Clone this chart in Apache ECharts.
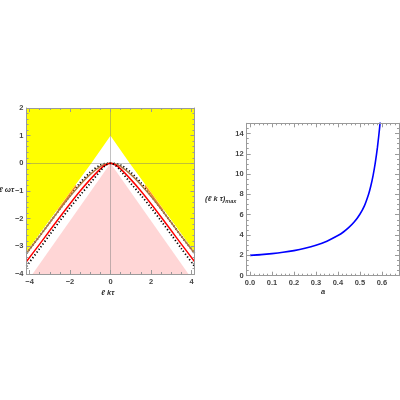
<!DOCTYPE html>
<html><head><meta charset="utf-8">
<script src="https://cdn.jsdelivr.net/npm/echarts@6/dist/echarts.min.js"></script>
<style>html,body{margin:0;padding:0;background:#fff}#c{width:400px;height:400px}</style>
</head><body><div id="c"></div>
<script>
// ---------- Left panel data (k = ℓkτ, omega = ℓωτ) ----------
const kSamples   = [-4.15,-3.5,-3,-2.5,-2,-1.5,-1,-0.5,-0.25,0,0.25,0.5,1,1.5,2,2.5,3,3.5,4.15];
const brownOmega = [-3.25,-2.63,-2.14,-1.65,-1.19,-0.77,-0.4,-0.11,-0.03,0,-0.03,-0.11,-0.4,-0.77,-1.19,-1.65,-2.14,-2.63,-3.25];
const redOmega   = [-3.55,-2.92,-2.43,-1.94,-1.46,-1.0,-0.58,-0.2,-0.06,0,-0.06,-0.2,-0.58,-1.0,-1.46,-1.94,-2.43,-2.92,-3.55];
const dotOuterOmega = [-3.25,-2.63,-2.14,-1.65,-1.17,-0.7,-0.32,-0.06,-0.01,0,-0.01,-0.06,-0.32,-0.7,-1.17,-1.65,-2.14,-2.63,-3.25];
const dotInnerOmega = [-3.72,-3.08,-2.58,-2.08,-1.6,-1.15,-0.72,-0.27,-0.08,0,-0.08,-0.27,-0.72,-1.15,-1.6,-2.08,-2.58,-3.08,-3.72];
const orangeLeftK = [-2.6,-2.3,-2.0,-1.7];
const orangeLeftOmega = [-1.7,-1.4,-1.1,-0.8];
const orangeRightK = [1.7,2.0,2.3,2.6];
const orangeRightOmega = [-0.8,-1.1,-1.4,-1.7];
const yellowK = [-4.15,-0.95,0,0.95,4.15];
const yellowOmega = [-3.2,0,1,0,-3.2];
const pinkK = [-3.85,0,3.85];
const pinkOmega = [-4,0,-4];
const leftXTicks = [-4,-2,0,2,4];
const leftYTicks = [-4,-3,-2,-1,0,1,2];

// ---------- Right panel data ----------
const aValues = [0,0.05,0.1,0.15,0.2,0.25,0.3,0.35,0.4,0.425,0.45,0.475,0.5,0.52,0.54,0.55,0.56,0.57,0.58,0.59,0.595];
const lkMax   = [2.0,2.07,2.17,2.3,2.47,2.7,3.0,3.4,3.95,4.3,4.75,5.3,6.05,6.85,8.05,8.85,9.85,11.1,12.65,14.6,15.8];
const rightXTicks = [0,0.1,0.2,0.3,0.4,0.5,0.6];
const rightYTicks = [0,2,4,6,8,10,12,14];

const zip = (xs, ys) => xs.map((x, i) => [x, ys[i]]);
function minorVals(min, max, step, majors) {
  const out = [];
  for (let v = min; v <= max + 1e-9; v += step) {
    const r = Math.round(v * 1000) / 1000;
    if (!majors.some(m => Math.abs(m - r) < 1e-6)) out.push(r);
  }
  return out;
}
const frameColor = '#9a9a9a';
const labelStyle = {fontSize: 7.5, fontWeight: 'bold', color: '#444', fontFamily: 'Liberation Sans'};
const minusFmt = v => (v < 0 ? '\u2212' + Math.abs(v) : String(v));

function makeAxes(kind, grid, min, max, majors, minors, fmt, margin) {
  const posA = kind === 'x' ? 'bottom' : 'left';
  const posB = kind === 'x' ? 'top' : 'right';
  const base = {type: 'value', gridIndex: grid, min: min, max: max, splitLine: {show: false}, z: 10};
  const mk = (pos, vals, len, withLine, withLabel) => Object.assign({}, base, {
    position: pos,
    axisLine: {show: withLine, onZero: false, lineStyle: {color: frameColor, width: 1}},
    axisTick: {show: true, inside: true, length: len, customValues: vals, lineStyle: {color: frameColor, width: 1}},
    axisLabel: withLabel ? Object.assign({show: true, margin: margin, customValues: majors, formatter: fmt}, labelStyle) : {show: false}
  });
  return [
    mk(posA, majors, 4, true, true),
    mk(posA, minors, 2, false, false),
    mk(posB, majors, 4, true, false),
    mk(posB, minors, 2, false, false)
  ];
}

const xAxes = [].concat(
  makeAxes('x', 0, -4.15, 4.15, leftXTicks, minorVals(-4, 4, 0.5, leftXTicks), minusFmt, 4),
  makeAxes('x', 1, -0.015, 0.678, rightXTicks, minorVals(0, 0.66, 0.02, rightXTicks), v => v.toFixed(1), 3)
);
const yAxes = [].concat(
  makeAxes('y', 0, -4, 2, leftYTicks, minorVals(-4, 2, 0.2, leftYTicks), minusFmt, 3),
  makeAxes('y', 1, 0, 15, rightYTicks, minorVals(0, 15, 0.5, rightYTicks), v => String(v), 3)
);

const L = {xAxisIndex: 0, yAxisIndex: 0};
const R = {xAxisIndex: 4, yAxisIndex: 4};
const curve = (data, color, width, type, z, smooth) => Object.assign({
  type: 'line', data: data, showSymbol: false, symbol: 'none', smooth: smooth, silent: true, z: z,
  lineStyle: {color: color, width: width, type: type}
}, L);
const titleStyle = {fontSize: 7.5, fontStyle: 'italic', fontWeight: 'bold', fill: '#333', fontFamily: 'Liberation Sans'};

const option = {
  animation: false,
  backgroundColor: '#fff',
  grid: [
    {left: 26.5, top: 108, width: 168, height: 166, containLabel: false, outerBoundsMode: 'none'},
    {left: 246.7, top: 123.3, width: 152.3, height: 152.4, containLabel: false, outerBoundsMode: 'none'}
  ],
  xAxis: xAxes,
  yAxis: yAxes,
  series: [
    Object.assign({type: 'line', data: zip(yellowK, yellowOmega), symbol: 'none', silent: true, z: 1,
      lineStyle: {width: 0}, areaStyle: {color: '#ffff00', opacity: 1, origin: 'end'}}, L),
    Object.assign({type: 'line', data: zip(pinkK, pinkOmega), symbol: 'none', silent: true, z: 1,
      lineStyle: {width: 0}, areaStyle: {color: '#ffd6d6', opacity: 1, origin: 'start'}}, L),
    Object.assign({type: 'line', data: [], symbol: 'none', silent: true, z: 2,
      markLine: {silent: true, symbol: 'none', label: {show: false}, animation: false,
        lineStyle: {color: 'rgba(120,120,120,0.45)', width: 1, type: 'solid'},
        data: [{yAxis: 0}, {xAxis: 0}]}}, L),
    curve(zip(kSamples, dotOuterOmega), '#000000', 1.8, [1.2, 2.2], 3, 0.3),
    curve(zip(orangeLeftK, orangeLeftOmega), '#ff8c1a', 1.4, 'solid', 4, false),
    curve(zip(orangeRightK, orangeRightOmega), '#ff8c1a', 1.4, 'solid', 4, false),
    curve(zip(kSamples, brownOmega), '#b07a45', 1.5, 'solid', 5, 0.3),
    curve(zip(kSamples, redOmega), '#ff0000', 1.5, 'solid', 6, 0.3),
    curve(zip(kSamples, dotInnerOmega), '#000000', 1.8, [1.2, 2.2], 7, 0.3),
    Object.assign({type: 'line', data: zip(aValues, lkMax), showSymbol: false, symbol: 'none', smooth: 0.25,
      silent: true, z: 5, lineStyle: {color: '#0000ff', width: 1.6}}, R)
  ],
  graphic: [
    {type: 'text', right: 386, top: 186, z: 20, style: Object.assign({text: '\u2113 \u03c9\u03c4'}, titleStyle)},
    {type: 'text', left: 101, top: 289, z: 20, style: Object.assign({text: '\u2113 k\u03c4'}, titleStyle)},
    {type: 'text', left: 321, top: 288, z: 20, style: Object.assign({text: 'a'}, titleStyle)},
    {type: 'text', left: 205, top: 195, z: 20, style: {
      text: '{m|(\u2113 k \u03c4)}{s|max}',
      rich: {
        m: titleStyle,
        s: Object.assign({}, titleStyle, {fontSize: 5.5, verticalAlign: 'bottom', padding: [4, 0, 0, 0]})
      }}}
  ]
};
const chart = echarts.init(document.getElementById('c'), null, {renderer: 'canvas'});
chart.setOption(option);
</script></body></html>
